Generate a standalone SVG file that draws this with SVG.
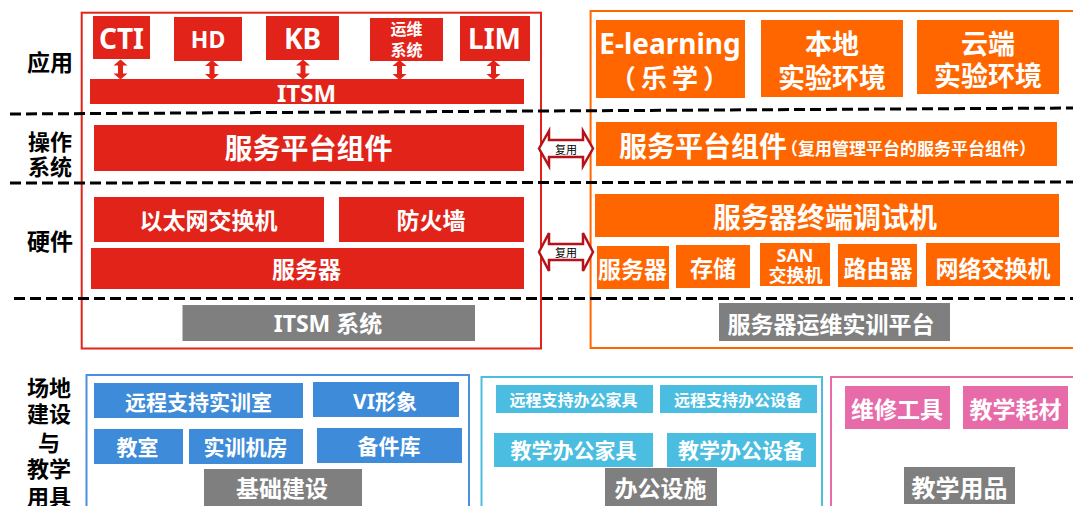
<svg xmlns="http://www.w3.org/2000/svg" xmlns:xlink="http://www.w3.org/1999/xlink" width="1073" height="506" viewBox="0 0 1073 506">
<defs>
<style>
text{font-family:"Noto Sans","Noto Sans CJK SC",sans-serif;font-weight:700;text-anchor:middle;dominant-baseline:central}
.w{fill:#fff}
.k{fill:#000}
.r{fill:#e2231a}
.o{fill:#ff6600}
.g{fill:#7f7f7f}
.b{fill:#3d8bd9}
.c{fill:#4bbde0}
.p{fill:#e76aa9}
.dash{stroke:#000;stroke-width:3;stroke-dasharray:11 5;fill:none}
.reuse{fill:#fff;stroke:#b5121b;stroke-width:2.5;stroke-linejoin:miter}
.rt{font-family:"Noto Sans CJK SC",sans-serif;font-weight:400;font-size:11px;fill:#000}
</style>
<polygon id="va" points="0,0 7,6 2.5,6 2.5,14 7,14 0,20 -7,14 -2.5,14 -2.5,6 -7,6" fill="#e2231a"/>
</defs>
<rect width="1073" height="506" fill="#fff"/>

<!-- outer frames -->
<g id="frame-mgmt"><rect x="81.7" y="12.7" width="459.3" height="335.8" fill="none" stroke="#e2231a" stroke-width="2"/></g>
<g id="frame-train"><rect x="590.6" y="11" width="500" height="337" fill="none" stroke="#ff6600" stroke-width="2"/></g>
<g id="frame-base"><rect x="86.5" y="375" width="382.5" height="150" fill="none" stroke="#4a90dc" stroke-width="2"/></g>
<g id="frame-office"><rect x="481.5" y="377" width="340.5" height="150" fill="none" stroke="#4bbde0" stroke-width="2"/></g>
<g id="frame-tools"><rect x="831" y="377" width="260" height="150" fill="none" stroke="#e76aa9" stroke-width="2"/></g>

<!-- dashed layer separators -->
<g id="separators">
<line class="dash" x1="10" y1="114" x2="1073" y2="108"/>
<line class="dash" x1="10" y1="183" x2="1073" y2="182"/>
<line class="dash" x1="14" y1="298.5" x2="1073" y2="298.5"/>
</g>

<!-- row labels -->
<g id="label-app"><text class="k" x="50" y="62" font-size="23">应用</text></g>
<g id="label-os"><text class="k" x="50" y="141" font-size="22">操作</text><text class="k" x="50" y="166" font-size="22">系统</text></g>
<g id="label-hw"><text class="k" x="50" y="241" font-size="23">硬件</text></g>
<g id="label-site"><text class="k" x="49" y="387" font-size="22">场地</text><text class="k" x="49" y="413" font-size="22">建设</text><text class="k" x="49" y="442" font-size="22">与</text><text class="k" x="49" y="468" font-size="22">教学</text><text class="k" x="49" y="496" font-size="22">用具</text></g>

<!-- left (management) column -->
<g id="cti"><rect class="r" x="93" y="16" width="57" height="43"/><text class="w" x="121.5" y="38" font-size="28">CTI</text></g>
<g id="hd"><rect class="r" x="174" y="17" width="68" height="44"/><text class="w" x="208" y="39" font-size="23">HD</text></g>
<g id="kb"><rect class="r" x="266" y="16" width="73" height="44"/><text class="w" x="302.5" y="38" font-size="28">KB</text></g>
<g id="ops"><rect class="r" x="370" y="18" width="73" height="43"/><text class="w" x="406.5" y="29" font-size="16">运维</text><text class="w" x="406.5" y="50" font-size="16">系统</text></g>
<g id="lim"><rect class="r" x="460" y="16" width="70" height="45"/><text class="w" x="494.5" y="38" font-size="28">LIM</text></g>
<g id="itsm"><rect class="r" x="90" y="79" width="434" height="25"/><text class="w" x="306.5" y="92" font-size="24">ITSM</text></g>
<g id="svc-left"><rect class="r" x="94" y="125" width="430" height="46"/><text class="w" x="308.5" y="148" font-size="28">服务平台组件</text></g>
<g id="eth"><rect class="r" x="94" y="197" width="230" height="45"/><text class="w" x="208.5" y="219.5" font-size="23">以太网交换机</text></g>
<g id="fw"><rect class="r" x="339" y="197" width="185" height="45"/><text class="w" x="431" y="219.5" font-size="23">防火墙</text></g>
<g id="server-left"><rect class="r" x="91" y="248" width="433" height="41"/><text class="w" x="306.5" y="268.5" font-size="23">服务器</text></g>
<g id="itsm-sys"><rect class="g" x="182.5" y="305" width="292.5" height="36"/><text class="w" x="328" y="323" font-size="23">ITSM 系统</text></g>

<!-- right (training) column -->
<g id="elearning"><rect class="o" x="596" y="20" width="149" height="78"/><text class="w" x="670" y="43" font-size="28">E-learning</text><text class="w" x="672" y="78" font-size="26" letter-spacing="5">（乐学）</text></g>
<g id="local-lab"><rect class="o" x="761" y="20" width="142" height="77"/><text class="w" x="832" y="43" font-size="27">本地</text><text class="w" x="832" y="77" font-size="27">实验环境</text></g>
<g id="cloud-lab"><rect class="o" x="917" y="20" width="142" height="74"/><text class="w" x="988" y="43" font-size="27">云端</text><text class="w" x="988" y="75" font-size="27">实验环境</text></g>
<g id="svc-right"><rect class="o" x="596" y="122" width="461" height="44"/><text class="w" x="619" y="146" font-size="28" style="text-anchor:start">服务平台组件</text><text class="w" x="781" y="148.5" font-size="17" style="text-anchor:start">（复用管理平台的服务平台组件）</text></g>
<g id="terminal"><rect class="o" x="595" y="194" width="464" height="43"/><text class="w" x="825" y="216.5" font-size="28">服务器终端调试机</text></g>
<g id="server-right"><rect class="o" x="597" y="246" width="72" height="43"/><text class="w" x="632.5" y="268.5" font-size="23">服务器</text></g>
<g id="storage"><rect class="o" x="676" y="245" width="74" height="43"/><text class="w" x="713" y="268" font-size="23">存储</text></g>
<g id="san"><rect class="o" x="760" y="243" width="70" height="43"/><text class="w" x="795" y="254.5" font-size="18">SAN</text><text class="w" x="795.5" y="275" font-size="18">交换机</text></g>
<g id="router"><rect class="o" x="838" y="244" width="79" height="43"/><text class="w" x="878" y="268" font-size="23">路由器</text></g>
<g id="net-switch"><rect class="o" x="926" y="243" width="134" height="43"/><text class="w" x="993" y="267.5" font-size="23">网络交换机</text></g>
<g id="platform"><rect class="g" x="719" y="303" width="231" height="38"/><text class="w" x="831" y="323.5" font-size="23">服务器运维实训平台</text></g>

<!-- bottom: infrastructure -->
<g id="remote-room"><rect class="b" x="94" y="383" width="209" height="35"/><text class="w" x="198.5" y="401.5" font-size="21">远程支持实训室</text></g>
<g id="vi"><rect class="b" x="313" y="382" width="146" height="35"/><text class="w" x="385" y="400.5" font-size="21">VI形象</text></g>
<g id="classroom"><rect class="b" x="94" y="429" width="89" height="35"/><text class="w" x="137.5" y="447" font-size="21">教室</text></g>
<g id="lab-room"><rect class="b" x="189" y="429" width="114" height="35"/><text class="w" x="245.5" y="447" font-size="21">实训机房</text></g>
<g id="spares"><rect class="b" x="317" y="428" width="145" height="35"/><text class="w" x="389" y="446" font-size="21">备件库</text></g>
<g id="infra"><rect class="g" x="204" y="469" width="158" height="45"/><text class="w" x="282" y="488" font-size="23">基础建设</text></g>

<!-- bottom: office -->
<g id="remote-furn"><rect class="c" x="496" y="385" width="157" height="28"/><text class="w" x="573.5" y="399.5" font-size="16">远程支持办公家具</text></g>
<g id="remote-equip"><rect class="c" x="660" y="385" width="157" height="28"/><text class="w" x="738" y="399.5" font-size="16">远程支持办公设备</text></g>
<g id="teach-furn"><rect class="c" x="494" y="433" width="159" height="34"/><text class="w" x="573.5" y="450" font-size="21">教学办公家具</text></g>
<g id="teach-equip"><rect class="c" x="667" y="433" width="149" height="34"/><text class="w" x="741" y="450" font-size="21">教学办公设备</text></g>
<g id="office"><rect class="g" x="605" y="468" width="112" height="45"/><text class="w" x="660.5" y="488" font-size="23">办公设施</text></g>

<!-- bottom: teaching supplies -->
<g id="repair-tools"><rect class="p" x="845" y="386" width="105" height="43"/><text class="w" x="897" y="409" font-size="23">维修工具</text></g>
<g id="consumables"><rect class="p" x="963" y="386" width="105" height="43"/><text class="w" x="1015.5" y="409" font-size="23">教学耗材</text></g>
<g id="supplies"><rect class="g" x="904" y="467" width="111" height="37"/><text class="w" x="959.5" y="487" font-size="24">教学用品</text></g>

<!-- connectors -->
<g id="connectors">
<use xlink:href="#va" href="#va" x="120.5" y="59.5"/>
<use xlink:href="#va" href="#va" x="212" y="60"/>
<use xlink:href="#va" href="#va" x="303" y="59.5"/>
<use xlink:href="#va" href="#va" x="399.5" y="60"/>
<use xlink:href="#va" href="#va" x="493.5" y="60"/>
<polygon class="reuse" points="539,148.5 549,131 549,140 583,140 583,131 593,148.5 583,166 583,157 549,157 549,166"/>
<text class="rt" x="566" y="148.5">复用</text>
<polygon class="reuse" points="539,252 549,233 549,244 583,244 583,233 593,252 583,271 583,260 549,260 549,271"/>
<text class="rt" x="566" y="252">复用</text>
</g>
</svg>
